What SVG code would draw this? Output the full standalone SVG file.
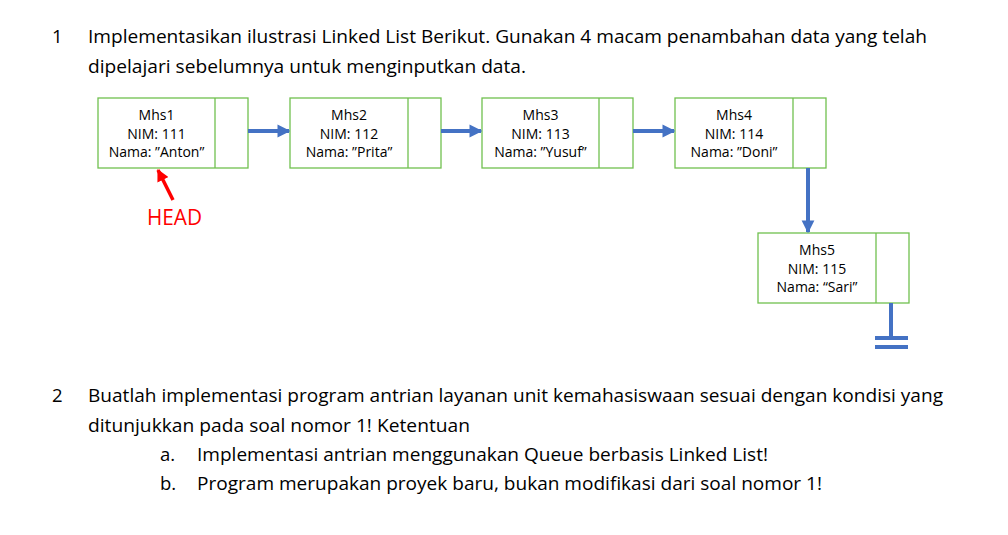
<svg xmlns="http://www.w3.org/2000/svg" width="1008" height="535" viewBox="0 0 1008 535">
<style>
.t{font-family:"Open Sans","Liberation Sans",sans-serif;font-size:18.5px;fill:#000}
.n{font-family:"Open Sans","Liberation Sans",sans-serif;font-size:14px;fill:#000;text-anchor:middle}
.box{fill:#fff;stroke:#70C04F;stroke-width:1.3}
.link{stroke:#4472C4;stroke-width:4;fill:none}
</style>
<defs>
<marker id="ah" viewBox="0 0 10 10" refX="9" refY="5" markerWidth="3.2" markerHeight="3.4" orient="auto" markerUnits="strokeWidth">
<path d="M0,0 L10,5 L0,10 z" fill="#4472C4"/>
</marker>
<marker id="rh" viewBox="0 0 10 10" refX="9" refY="5" markerWidth="3.5" markerHeight="3.5" orient="auto" markerUnits="strokeWidth">
<path d="M0,0 L10,5 L0,10 z" fill="#FF0000"/>
</marker>
</defs>
<rect width="1008" height="535" fill="#fff"/>
<text class="t" x="52" y="43">1</text>
<text class="t" x="88" y="43" textLength="839" lengthAdjust="spacingAndGlyphs">Implementasikan ilustrasi Linked List Berikut. Gunakan 4 macam penambahan data yang telah</text>
<text class="t" x="88" y="73" textLength="438" lengthAdjust="spacingAndGlyphs">dipelajari sebelumnya untuk menginputkan data.</text>

<g id="mhs1">
<rect class="box" x="98" y="98" width="150" height="70"/>
<line class="box" x1="215" y1="98" x2="215" y2="168"/>
<text class="n" x="156.5" y="120">Mhs1</text>
<text class="n" x="156.5" y="139">NIM: 111</text>
<text class="n" x="156.5" y="157">Nama: ”Anton”</text>
</g>
<g id="mhs2">
<rect class="box" x="290" y="98" width="151" height="70"/>
<line class="box" x1="408" y1="98" x2="408" y2="168"/>
<text class="n" x="349" y="120">Mhs2</text>
<text class="n" x="349" y="139">NIM: 112</text>
<text class="n" x="349" y="157">Nama: ”Prita”</text>
</g>
<g id="mhs3">
<rect class="box" x="482" y="98" width="151" height="70"/>
<line class="box" x1="599" y1="98" x2="599" y2="168"/>
<text class="n" x="540.5" y="120">Mhs3</text>
<text class="n" x="540.5" y="139">NIM: 113</text>
<text class="n" x="540.5" y="157">Nama: ”Yusuf”</text>
</g>
<g id="mhs4">
<rect class="box" x="675" y="98" width="151" height="70"/>
<line class="box" x1="793" y1="98" x2="793" y2="168"/>
<text class="n" x="734" y="120">Mhs4</text>
<text class="n" x="734" y="139">NIM: 114</text>
<text class="n" x="734" y="157">Nama: ”Doni”</text>
</g>
<g id="mhs5">
<rect class="box" x="758" y="233" width="151" height="70"/>
<line class="box" x1="876" y1="233" x2="876" y2="303"/>
<text class="n" x="817" y="255">Mhs5</text>
<text class="n" x="817" y="274">NIM: 115</text>
<text class="n" x="817" y="292">Nama: “Sari”</text>
</g>
<g id="head">
<text x="147" y="225" font-family="Open Sans,Liberation Sans,sans-serif" font-size="21" fill="#FF0000" textLength="55" lengthAdjust="spacingAndGlyphs">HEAD</text>
</g>
<g id="connectors">
<line class="link" x1="248" y1="131" x2="289" y2="131" marker-end="url(#ah)"/>
<line class="link" x1="441" y1="131" x2="481" y2="131" marker-end="url(#ah)"/>
<line class="link" x1="633" y1="131" x2="674" y2="131" marker-end="url(#ah)"/>
<line class="link" x1="808" y1="168" x2="808" y2="232" marker-end="url(#ah)"/>
<line x1="173" y1="200" x2="158" y2="170" stroke="#FF0000" stroke-width="3.5" marker-end="url(#rh)"/>
<line class="link" x1="891" y1="303" x2="891" y2="338"/>
<line class="link" x1="875" y1="338" x2="908" y2="338"/>
<line class="link" x1="875" y1="347" x2="908" y2="347"/>
</g>

<text class="t" x="52" y="402">2</text>
<text class="t" x="88" y="402" textLength="855" lengthAdjust="spacingAndGlyphs">Buatlah implementasi program antrian layanan unit kemahasiswaan sesuai dengan kondisi yang</text>
<text class="t" x="88" y="432" textLength="382" lengthAdjust="spacingAndGlyphs">ditunjukkan pada soal nomor 1! Ketentuan</text>
<text class="t" x="160" y="461">a.</text>
<text class="t" x="197" y="461" textLength="571" lengthAdjust="spacingAndGlyphs">Implementasi antrian menggunakan Queue berbasis Linked List!</text>
<text class="t" x="160" y="490">b.</text>
<text class="t" x="197" y="490" textLength="625" lengthAdjust="spacingAndGlyphs">Program merupakan proyek baru, bukan modifikasi dari soal nomor 1!</text>
</svg>
